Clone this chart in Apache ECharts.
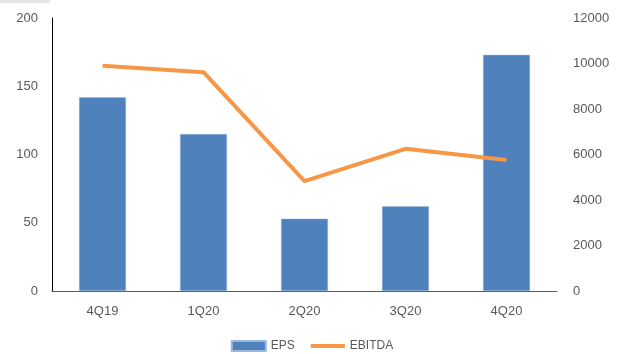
<!DOCTYPE html>
<html><head><meta charset="utf-8">
<script src="https://cdn.jsdelivr.net/npm/echarts@6/dist/echarts.min.js"></script>
<style>html,body{margin:0;padding:0;background:#fff}#c{width:624px;height:354px}</style>
</head><body><div id="c"></div>
<script>
const categories = ['4Q19','1Q20','2Q20','3Q20','4Q20'];
const eps = [142, 115, 53, 62, 173];
const ebitda = [9900, 9620, 4830, 6250, 5760];
const leftTicks = {min:0, max:200, interval:50};
const rightTicks = {min:0, max:12000, interval:2000};

const chart = echarts.init(document.getElementById('c'), null, {renderer:'canvas'});
const txt = {color:'#595959', fontSize:13, fontFamily:'Liberation Sans, Arial, sans-serif'};
chart.setOption({
  animation:false,
  graphic:[{type:'rect', shape:{x:0,y:0,width:50,height:3}, style:{fill:'#e6e6e6'}}],
  grid:{left:52, right:67, top:18, bottom:63, containLabel:false},
  legend:{bottom:-3, left:'center', itemWidth:34, itemHeight:10, itemGap:14,
    textStyle:Object.assign({}, txt, {fontSize:12}),
    data:[{name:'EPS', icon:'rect'},
          {name:'EBITDA', itemStyle:{opacity:0}, lineStyle:{width:4, color:'#F79646'}}]},
  xAxis:{type:'category', data:categories,
    axisLine:{lineStyle:{color:'#595959', width:1}}, axisTick:{show:false},
    axisLabel:Object.assign({margin:14}, txt)},
  yAxis:[
    {type:'value', min:leftTicks.min, max:leftTicks.max, interval:leftTicks.interval,
     axisLine:{show:true, lineStyle:{color:'#000', width:1}}, axisTick:{show:false},
     splitLine:{show:false}, axisLabel:Object.assign({margin:14}, txt)},
    {type:'value', min:rightTicks.min, max:rightTicks.max, interval:rightTicks.interval,
     axisLine:{show:false}, axisTick:{show:false}, splitLine:{show:false},
     axisLabel:Object.assign({margin:16, formatter:v => String(v)}, txt)}
  ],
  series:[
    {name:'EPS', type:'bar', data:eps, yAxisIndex:0, barWidth:'46.5%',
     itemStyle:{color:'#4F81BD', borderColor:'#9DB8DC', borderWidth:0.5}},
    {name:'EBITDA', type:'line', data:ebitda, yAxisIndex:1, symbol:'none',
     lineStyle:{color:'#F79646', width:4}, itemStyle:{color:'#F79646'}}
  ]
});
</script></body></html>
